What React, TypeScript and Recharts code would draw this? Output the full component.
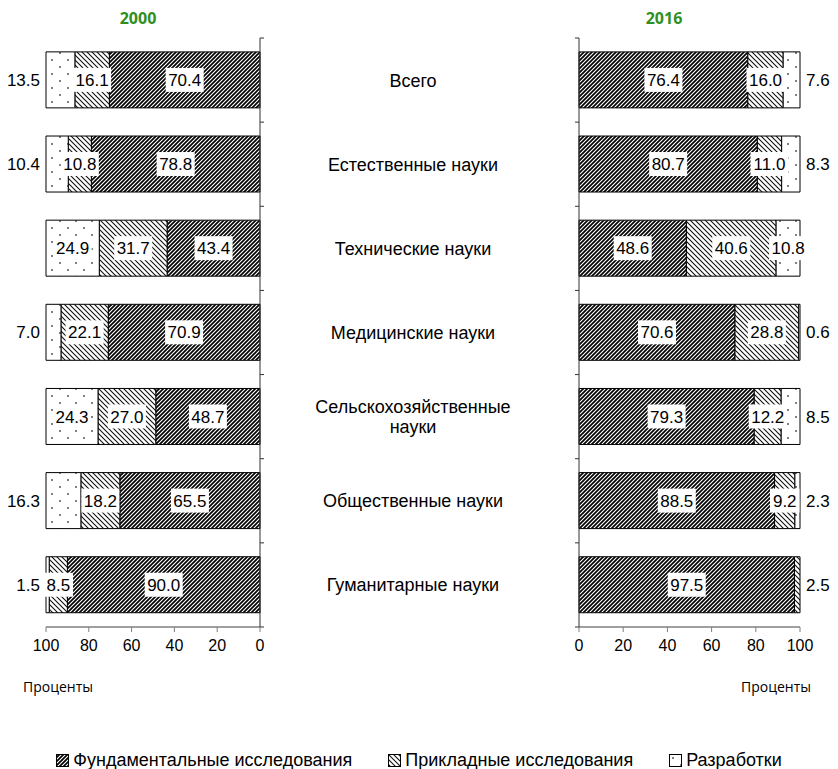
import React from 'react';
import { BarChart, Bar, XAxis, YAxis, LabelList } from 'recharts';

const categories = [
  'Всего',
  'Естественные науки',
  'Технические науки',
  'Медицинские науки',
  'Сельскохозяйственные науки',
  'Общественные науки',
  'Гуманитарные науки',
];
const fund2000 = [70.4, 78.8, 43.4, 70.9, 48.7, 65.5, 90.0];
const appl2000 = [16.1, 10.8, 31.7, 22.1, 27.0, 18.2, 8.5];
const dev2000 = [13.5, 10.4, 24.9, 7.0, 24.3, 16.3, 1.5];
const fund2016 = [76.4, 80.7, 48.6, 70.6, 79.3, 88.5, 97.5];
const appl2016 = [16.0, 11.0, 40.6, 28.8, 12.2, 9.2, 2.5];
const dev2016 = [7.6, 8.3, 10.8, 0.6, 8.5, 2.3, 0];
const xTicks = [0, 20, 40, 60, 80, 100];
const seriesNames = ['Фундаментальные исследования', 'Прикладные исследования', 'Разработки'];
const titles = ['2000', '2016'];
const unitLabel = 'Проценты';

const build = (f: number[], a: number[], d: number[]) =>
  categories.map((name, i) => ({ name, fund: f[i], appl: a[i], dev: d[i] }));
const data2000 = build(fund2000, appl2000, dev2000);
const data2016 = build(fund2016, appl2016, dev2016);

const W = 838;
const H = 769;
const FONT = '"Liberation Sans", Arial, sans-serif';
const LABEL_SIZE = 17;

const fmt = (v: number) => v.toFixed(1);

const makeLabel = (side: 'left' | 'right', outsideBelow: number) => (props: any) => {
  const { x, y, width, height, value } = props;
  if (value == null || value === 0) return null;
  const cy = y + height / 2;
  const txt = fmt(value);
  const tw = txt.length * LABEL_SIZE * 0.5;
  if (value < outsideBelow) {
    const left = Math.min(x, x + width);
    const right = Math.max(x, x + width);
    if (side === 'left') {
      return (
        <text x={left - 6} y={cy} dy="0.36em" textAnchor="end" fontSize={LABEL_SIZE} fontFamily={FONT} fill="#000">
          {txt}
        </text>
      );
    }
    return (
      <text x={right + 6} y={cy} dy="0.36em" textAnchor="start" fontSize={LABEL_SIZE} fontFamily={FONT} fill="#000">
        {txt}
      </text>
    );
  }
  const cx = x + width / 2;
  return (
    <g>
      <rect x={cx - tw / 2 - 2} y={cy - 12} width={tw + 4} height={24} fill="#fff" />
      <text x={cx} y={cy} dy="0.36em" textAnchor="middle" fontSize={LABEL_SIZE} fontFamily={FONT} fill="#000">
        {txt}
      </text>
    </g>
  );
};

const wrapName = (s: string) => {
  if (s.length <= 20) return [s];
  const k = s.lastIndexOf(' ');
  return [s.slice(0, k), s.slice(k + 1)];
};

// boundary tick marks (between categories) + optional category text
const makeCategoryTick = (dir: number, withText: boolean, dx: number) => (props: any) => {
  const { x, y, payload, index, visibleTicksCount, height } = props;
  const n = visibleTicksCount || categories.length;
  const band = height ? height / n : 0;
  const marks: number[] = [];
  if (band) {
    marks.push(y - band / 2);
    if (index === n - 1) marks.push(y + band / 2);
  }
  const lines = wrapName(String(payload.value));
  const first = 0.36 - (lines.length - 1) * 0.55;
  return (
    <g>
      {marks.map((my, i) => (
        <line key={i} x1={x} x2={x + dir * 4} y1={my} y2={my} stroke="#333" strokeWidth={1} />
      ))}
      {withText && (
        <text x={x + dx} y={y} textAnchor="middle" fontSize={18} fontFamily={FONT} fill="#000">
          {lines.map((l, i) => (
            <tspan key={i} x={x + dx} dy={i === 0 ? `${first}em` : '1.1em'}>
              {l}
            </tspan>
          ))}
        </text>
      )}
    </g>
  );
};

const Patterns = () => (
  <svg width={0} height={0} style={{ position: 'absolute' }}>
    <defs>
      <pattern id="pFund" patternUnits="userSpaceOnUse" width={4} height={4}>
        <rect width={4} height={4} fill="#fff" />
        <path d="M-1,1 L1,-1 M0,4 L4,0 M3,5 L5,3" stroke="#000" strokeWidth={1.7} />
      </pattern>
      <pattern id="pAppl" patternUnits="userSpaceOnUse" width={5} height={5}>
        <rect width={5} height={5} fill="#fff" />
        <path d="M-1,4 L1,6 M0,0 L5,5 M4,-1 L6,1" stroke="#111" strokeWidth={1.1} />
      </pattern>
      <pattern id="pDev" patternUnits="userSpaceOnUse" width={16} height={14}>
        <rect width={16} height={14} fill="#fff" />
        <circle cx={4} cy={4} r={0.9} fill="#444" />
        <circle cx={12} cy={11} r={0.9} fill="#444" />
      </pattern>
    </defs>
  </svg>
);

const tickStyle = { fontSize: 16, fontFamily: FONT, fill: '#000' };

const LeftChart = () => (
  <BarChart
    width={W}
    height={H}
    data={data2000}
    layout="vertical"
    barCategoryGap="16.5%"
    margin={{ top: 38, left: 46, right: W - 260 - 1, bottom: H - 627 - 30 }}
  >
    <XAxis
      type="number"
      domain={[0, 100]}
      ticks={xTicks}
      reversed
      height={30}
      axisLine={{ stroke: '#7f7f7f', strokeWidth: 1.5 }}
      tickLine={{ stroke: '#7f7f7f' }}
      tickSize={5}
      tickMargin={8}
      tick={tickStyle}
    />
    <YAxis
      type="category"
      dataKey="name"
      orientation="right"
      width={1}
      axisLine={{ stroke: '#333' }}
      tickLine={false}
      tickSize={0}
      tickMargin={0}
      tick={makeCategoryTick(1, true, 153)}
      interval={0}
    />
    <Bar dataKey="fund" stackId="s" fill="url(#pFund)" stroke="#000" strokeWidth={1} isAnimationActive={false}>
      <LabelList dataKey="fund" content={makeLabel('left', 0)} />
    </Bar>
    <Bar dataKey="appl" stackId="s" fill="url(#pAppl)" stroke="#000" strokeWidth={1} isAnimationActive={false}>
      <LabelList dataKey="appl" content={makeLabel('left', 5)} />
    </Bar>
    <Bar dataKey="dev" stackId="s" fill="url(#pDev)" stroke="#000" strokeWidth={1} isAnimationActive={false}>
      <LabelList dataKey="dev" content={makeLabel('left', 20)} />
    </Bar>
  </BarChart>
);

const RightChart = () => (
  <BarChart
    width={W}
    height={H}
    data={data2016}
    layout="vertical"
    barCategoryGap="16.5%"
    margin={{ top: 38, left: 579 - 1, right: W - 800, bottom: H - 627 - 30 }}
  >
    <XAxis
      type="number"
      domain={[0, 100]}
      ticks={xTicks}
      height={30}
      axisLine={{ stroke: '#7f7f7f', strokeWidth: 1.5 }}
      tickLine={{ stroke: '#7f7f7f' }}
      tickSize={5}
      tickMargin={8}
      tick={tickStyle}
    />
    <YAxis
      type="category"
      dataKey="name"
      orientation="left"
      width={1}
      axisLine={{ stroke: '#333' }}
      tickLine={false}
      tickSize={0}
      tickMargin={0}
      tick={makeCategoryTick(-1, false, 0)}
      interval={0}
    />
    <Bar dataKey="fund" stackId="s" fill="url(#pFund)" stroke="#000" strokeWidth={1} isAnimationActive={false}>
      <LabelList dataKey="fund" content={makeLabel('right', 0)} />
    </Bar>
    <Bar dataKey="appl" stackId="s" fill="url(#pAppl)" stroke="#000" strokeWidth={1} isAnimationActive={false}>
      <LabelList dataKey="appl" content={makeLabel('right', 5)} />
    </Bar>
    <Bar dataKey="dev" stackId="s" fill="url(#pDev)" stroke="#000" strokeWidth={1} isAnimationActive={false}>
      <LabelList dataKey="dev" content={makeLabel('right', 10)} />
    </Bar>
  </BarChart>
);

const legendFills = ['url(#pFund)', 'url(#pAppl)', 'url(#pDev)'];

export default function App() {
  return (
    <div style={{ position: 'absolute', left: 0, top: 0, width: W, height: H, background: '#fff', overflow: 'hidden' }}>
      <Patterns />
      <div style={{ position: 'absolute', left: 0, top: 0 }}>
        <LeftChart />
      </div>
      <div style={{ position: 'absolute', left: 0, top: 0 }}>
        <RightChart />
      </div>
      {titles.map((t, i) => (
        <div
          key={t}
          style={{
            position: 'absolute',
            left: i === 0 ? 98 : 624,
            top: 7,
            width: 80,
            textAlign: 'center',
            fontFamily: '"Open Sans", sans-serif',
            fontWeight: 700,
            fontSize: 16,
            lineHeight: '22px',
            color: '#2f8f1f',
          }}
        >
          {t}
        </div>
      ))}
      {[23, 741].map((l, i) => (
        <div
          key={i}
          style={{
            position: 'absolute',
            left: l,
            top: 677,
            fontFamily: '"Open Sans", sans-serif',
            fontSize: 14,
            lineHeight: '20px',
            color: '#000',
          }}
        >
          {unitLabel}
        </div>
      ))}
      <div
        style={{
          position: 'absolute',
          left: 0,
          top: 750,
          width: W,
          display: 'flex',
          justifyContent: 'center',
          gap: 36,
          fontFamily: FONT,
          fontSize: 18,
          lineHeight: '20px',
          color: '#000',
          whiteSpace: 'nowrap',
        }}
      >
        {seriesNames.map((n, i) => (
          <div key={n} style={{ display: 'flex', alignItems: 'center' }}>
            <svg width={13} height={13} style={{ marginRight: 4 }}>
              <rect x={0.5} y={0.5} width={12} height={12} fill={legendFills[i]} stroke="#000" strokeWidth={1} />
            </svg>
            {n}
          </div>
        ))}
      </div>
    </div>
  );
}
